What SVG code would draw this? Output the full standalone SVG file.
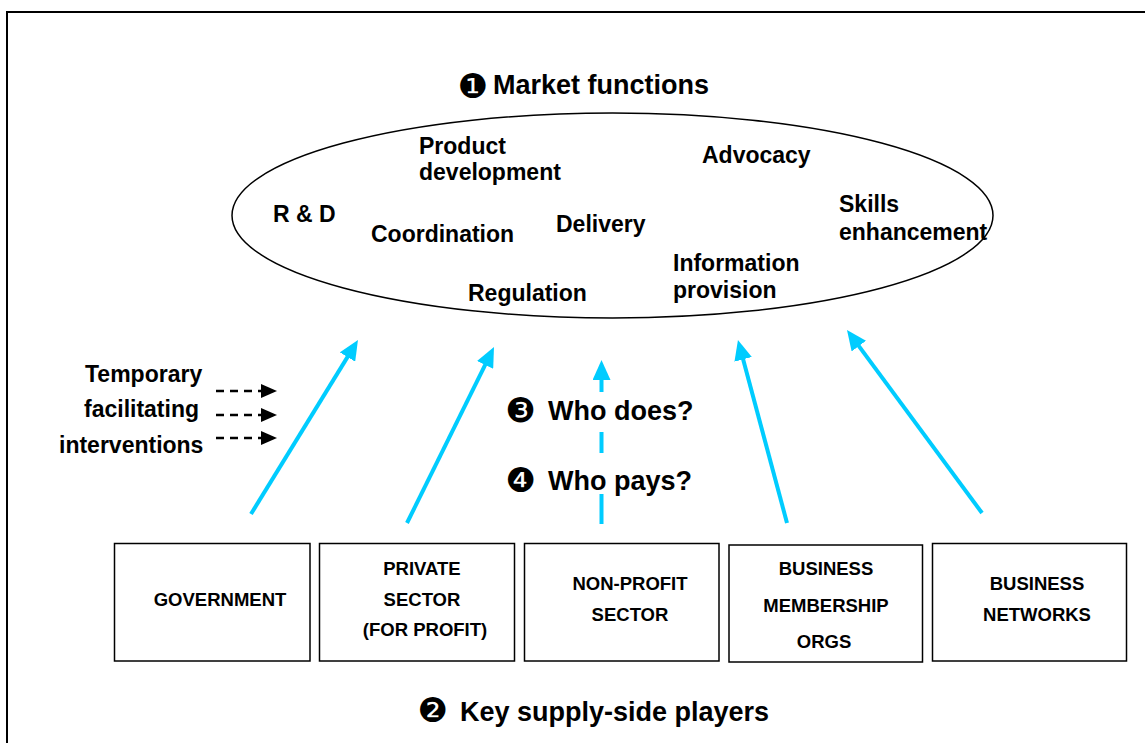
<svg xmlns="http://www.w3.org/2000/svg" width="1145" height="743" viewBox="0 0 1145 743">
<style>
  text { font-family: "Liberation Sans", Arial, sans-serif; font-weight: bold; fill: #000; }
  .fn { font-size: 23px; }
  .hd { font-size: 27px; }
  .num { font-family: "DejaVu Sans", sans-serif; font-weight: normal; font-size: 34px; }
  .bx { font-size: 18.5px; text-anchor: middle; }
  .box { fill: #fff; stroke: #000; stroke-width: 1.5; }
  .blue { stroke: #00CCFF; stroke-width: 4; fill: none; marker-end: url(#bluehead); }
  .dash { stroke: #000; stroke-width: 2.5; stroke-dasharray: 8 6; fill: none; marker-end: url(#blackhead); }
</style>
<defs>
  <marker id="bluehead" markerUnits="userSpaceOnUse" markerWidth="20" markerHeight="18" refX="4" refY="9" orient="auto">
    <path d="M0,0 L20,9 L0,18 z" fill="#00CCFF"/>
  </marker>
  <marker id="blackhead" markerUnits="userSpaceOnUse" markerWidth="16" markerHeight="14" refX="2" refY="7" orient="auto">
    <path d="M0,0 L16,7 L0,14 z" fill="#000"/>
  </marker>
</defs>
<rect x="0" y="0" width="1145" height="743" fill="#fff"/>
<rect x="7" y="12" width="1150" height="745" fill="none" stroke="#000" stroke-width="2"/>

<g id="market-functions">
  <ellipse cx="612.5" cy="215.5" rx="380.5" ry="102.5" fill="none" stroke="#000" stroke-width="1.5"/>
  <text class="num" x="457.5" y="98">❶</text>
  <text class="hd" x="493" y="94">Market functions</text>
  <text class="fn" x="419" y="154">Product</text>
  <text class="fn" x="419" y="180">development</text>
  <text class="fn" x="702" y="163">Advocacy</text>
  <text class="fn" x="273" y="222">R &amp; D</text>
  <text class="fn" x="371" y="242">Coordination</text>
  <text class="fn" x="556" y="232">Delivery</text>
  <text class="fn" x="839" y="212">Skills</text>
  <text class="fn" x="839" y="240">enhancement</text>
  <text class="fn" x="673" y="271">Information</text>
  <text class="fn" x="673" y="298">provision</text>
  <text class="fn" x="468" y="301">Regulation</text>
</g>

<g id="facilitating-label">
  <text class="fn" x="85" y="382">Temporary</text>
  <text class="fn" x="84" y="417">facilitating</text>
  <text class="fn" x="59" y="453">interventions</text>
</g>

<g id="questions">
  <text class="num" x="505.5" y="422">❸</text>
  <text class="hd" x="548" y="420">Who does?</text>
  <text class="num" x="505.5" y="492">❹</text>
  <text class="hd" x="548" y="490">Who pays?</text>
</g>

<g id="connectors">
  <line class="dash" x1="216" y1="391" x2="263" y2="391"/>
  <line class="dash" x1="216" y1="415" x2="263" y2="415"/>
  <line class="dash" x1="216" y1="438" x2="263" y2="438"/>
  <line class="blue" x1="251" y1="514" x2="349.6" y2="353.6"/>
  <line class="blue" x1="407" y1="523" x2="486.9" y2="361.3"/>
  <path class="blue" d="M601.5,524 V494 M601.5,453 V432 M601.5,392 V376"/>
  <line class="blue" x1="787" y1="523" x2="742.1" y2="355.5"/>
  <line class="blue" x1="982" y1="513" x2="856.5" y2="342.9"/>
</g>

<g id="government">
  <rect class="box" x="114.5" y="543.5" width="195.5" height="117.5"/>
  <text class="bx" x="220" y="606">GOVERNMENT</text>
</g>
<g id="private-sector">
  <rect class="box" x="319.5" y="543.5" width="195" height="117.5"/>
  <text class="bx" x="422" y="575">PRIVATE</text>
  <text class="bx" x="422" y="606">SECTOR</text>
  <text class="bx" x="425" y="636">(FOR PROFIT)</text>
</g>
<g id="non-profit-sector">
  <rect class="box" x="524.5" y="543.5" width="194.5" height="117.5"/>
  <text class="bx" x="630" y="590">NON-PROFIT</text>
  <text class="bx" x="630" y="621">SECTOR</text>
</g>
<g id="business-membership-orgs">
  <rect class="box" x="729" y="545" width="193.5" height="117"/>
  <text class="bx" x="826" y="575">BUSINESS</text>
  <text class="bx" x="826" y="612">MEMBERSHIP</text>
  <text class="bx" x="824" y="648">ORGS</text>
</g>
<g id="business-networks">
  <rect class="box" x="932.5" y="543.5" width="194" height="117.5"/>
  <text class="bx" x="1037" y="590">BUSINESS</text>
  <text class="bx" x="1037" y="621">NETWORKS</text>
</g>

<g id="supply-side-label">
  <text class="num" x="417.5" y="722">❷</text>
  <text class="hd" x="460" y="721">Key supply-side players</text>
</g>
</svg>
